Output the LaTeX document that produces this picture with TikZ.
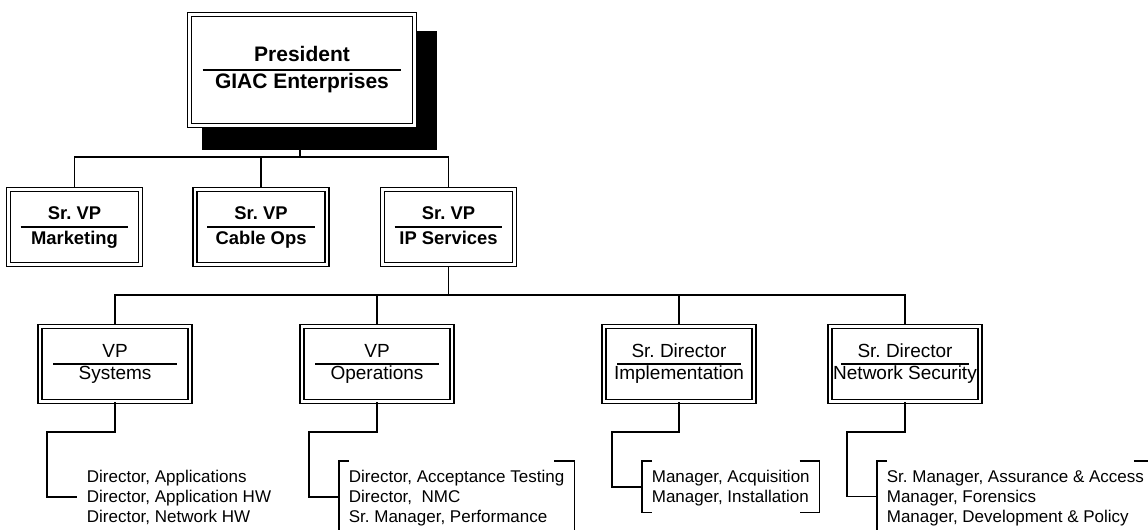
\documentclass[tikz,border=0pt]{standalone}
\usepackage{fontspec}
\setmainfont{Liberation Sans}
\usetikzlibrary{calc,positioning}

\newcommand\roletext[2]{\begin{tabular}{@{}c@{}}#1\\#2\end{tabular}}

\begin{document}
\frenchspacing
\begin{tikzpicture}
[x=0.75pt, y=-0.75pt, line width=1.4pt,
rolebox/.style={rectangle, draw, double=white, line width=1.1pt, double distance=1.8pt, fill=white, inner sep=0pt,
  path picture={\draw[line width=1pt] ([xshift=#1]path picture bounding box.west) -- ([xshift=-#1]path picture bounding box.east);}},
president/.style={rolebox=10pt, minimum width=169pt, minimum height=83pt, font=\fontsize{15.75}{20.25}\selectfont\bfseries},
seniorvp/.style={rolebox=9pt, minimum width=98.8pt, minimum height=56pt, font=\fontsize{13.8}{18.75}\selectfont\bfseries},
vp/.style={rolebox=#1, minimum width=112.3pt, minimum height=56pt, font=\fontsize{14.25}{16.5}\selectfont},
vp/.default=10pt,
staff/.style={anchor=north west, inner xsep=6.7pt, inner ysep=6.5pt, text depth=0pt, align=left, font=\fontsize{12.75}{15}\selectfont}]

\useasboundingbox (0,0) rectangle (1148,529);

% shadow behind the president
\fill[black] (202,31) rectangle (437,150);

% connectors
\draw (300,126) -- (300,157);
\draw (74.5,190) |- (448.5,157) -- (448.5,190);
\draw (261,190) -- (261,157);
\draw (448.5,264) -- (448.5,295);
\draw (115,326) |- (905,295) -- (905,326);
\draw (377,326) -- (377,295);
\draw (679,326) -- (679,295);

% boxes
\node[president] (pres) at (302,70) {\roletext{President}{GIAC Enterprises}};

\node[seniorvp] (mkt) at (74.5,227) {\roletext{Sr. VP}{Marketing}};
\node[seniorvp] (cab) at (261,227) {\roletext{Sr. VP}{Cable Ops}};
\node[seniorvp] (ip) at (448.5,227) {\roletext{Sr. VP}{IP Services}};

\node[vp] (sys) at (115,364) {\roletext{VP}{Systems}};
\node[vp] (ops) at (377,364) {\roletext{VP}{Operations}};
\node[vp] (imp) at (679,364) {\roletext{Sr. Director}{Implementation}};
\node[vp=8pt] (sec) at (905,364) {\roletext{Sr. Director}{Network Security}};

% staff under each VP
\node[staff] (syslist) at (77,461) {Director, Applications\\Director, Application HW\\Director, Network HW};
\node[staff] (opslist) at (339,461) {Director, Acceptance Testing\\Director,~ NMC\\Sr. Manager, Performance};
\node[staff] (implist) at (642,461) {Manager, Acquisition\\Manager, Installation};
\node[staff] (seclist) at (877,461) {Sr. Manager, Assurance \& Access\\Manager, Forensics\\Manager, Development \& Policy};

\foreach \b/\l in {sys/syslist, ops/opslist, imp/implist, sec/seclist}
  \draw (\b.south) -- (\b.south |- 0,432) -| ([xshift=-22.5pt]\l.west) -- (\l.west);

\foreach \l in {opslist, implist, seclist} {
  \draw[line width=1pt] ([xshift=7.5pt]\l.north west) -| (\l.south west) -- ++(7.5pt,0);
  \draw[line width=1pt] ([xshift=-15pt]\l.north east) -| (\l.south east) -- ++(-15pt,0);
}
\end{tikzpicture}
\end{document}
